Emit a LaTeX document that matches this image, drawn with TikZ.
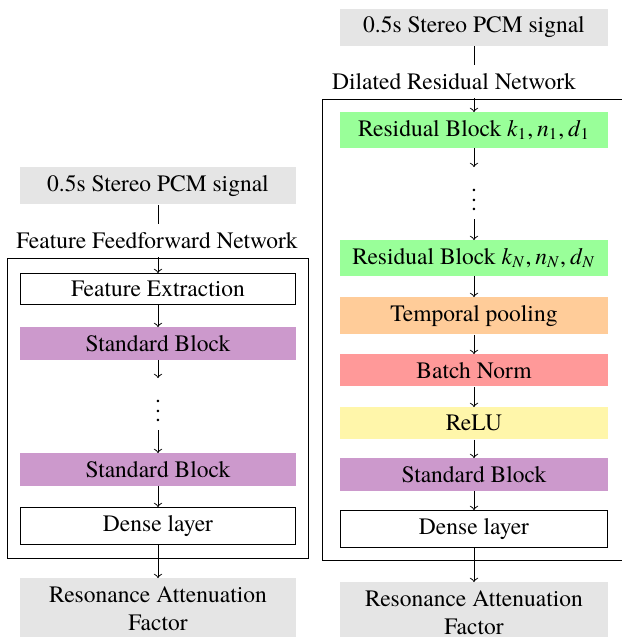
\documentclass[tikz,border=0pt]{standalone}
\usepackage{fontspec}
\setmainfont{TeX Gyre Termes}
\definecolor{inputgray}{RGB}{229,229,229}
\definecolor{stdpurple}{RGB}{204,153,204}
\definecolor{resgreen}{RGB}{153,255,153}
\definecolor{poolorange}{RGB}{255,204,153}
\definecolor{normred}{RGB}{255,153,153}
\definecolor{reluyellow}{RGB}{255,246,170}
\newcommand{\subvar}[2]{\textit{#1}\textsubscript{#2}}
\begin{document}
\begin{tikzpicture}[x=0.4255pt, y=-0.4255pt,
  font=\fontsize{10}{12}\selectfont,
  layerL/.style={anchor=north, minimum width=117.4pt, align=center},
  layerR/.style={anchor=north, minimum width=114pt, align=center},
  io/.style={fill=inputgray},
  plain/.style={draw, fill=white},
  stdblk/.style={fill=stdpurple},
  resblk/.style={fill=resgreen},
  poolblk/.style={fill=poolorange},
  normblk/.style={fill=normred},
  relublk/.style={fill=reluyellow},
  dotsnode/.style={anchor=north},
  netlabel/.style={anchor=south, fill=white},
  flow/.style={->}]
\useasboundingbox (0,0) rectangle (622,637);

% ---- Feature feedforward network ----
\draw (7,258) rectangle (308,558);
\node[layerL, io]     (inL)    at (158,167) {0.5s Stereo PCM signal};
\node[layerL, plain]  (feL)    at (158,273) {Feature Extraction};
\node[layerL, stdblk] (sb1L)   at (158,327) {Standard Block};
\node[dotsnode]       (dotsL)  at (158,378) {$\vdots$};
\node[layerL, stdblk] (sb2L)   at (158,453) {Standard Block};
\node[layerL, plain]  (denseL) at (158,507) {Dense layer};
\node[layerL, io]     (resL)   at (158,578) {Resonance Attenuation\\Factor};

\draw[flow] (inL) -- (feL);
\draw[flow] (feL) -- (sb1L);
\draw[flow] (sb1L) -- (dotsL);
\draw[flow] (dotsL) -- (sb2L);
\draw[flow] (sb2L) -- (denseL);
\draw[flow] (denseL) -- (resL);
\node[netlabel] (labL) at (157,257) {Feature Feedforward Network};

% ---- Dilated residual network ----
\draw (322,99) rectangle (630,560);
\node[layerR, io]      (inR)    at (474,8.5) {0.5s Stereo PCM signal};
\node[layerR, resblk]  (rb1)    at (474,112) {Residual Block \subvar{k}{1},\,\subvar{n}{1},\,\subvar{d}{1}};
\node[dotsnode]        (dotsR)  at (474,167) {$\vdots$};
\node[layerR, resblk]  (rbN)    at (474,240) {Residual Block \subvar{k}{\textit{N}},\,\subvar{n}{\textit{N}},\,\subvar{d}{\textit{N}}};
\node[layerR, poolblk] (pool)   at (474,297) {Temporal pooling};
\node[layerR, normblk] (bnorm)  at (474,354) {Batch Norm};
\node[layerR, relublk] (relu)   at (474,407) {ReLU};
\node[layerR, stdblk]  (sbR)    at (474,458) {Standard Block};
\node[layerR, plain]   (denseR) at (474,510) {Dense layer};
\node[layerR, io]      (resR)   at (474,582) {Resonance Attenuation\\Factor};

\draw[flow] (inR) -- (rb1);
\draw[flow] (rb1) -- (dotsR);
\draw[flow] (dotsR) -- (rbN);
\draw[flow] (rbN) -- (pool);
\draw[flow] (pool) -- (bnorm);
\draw[flow] (bnorm) -- (relu);
\draw[flow] (relu) -- (sbR);
\draw[flow] (sbR) -- (denseR);
\draw[flow] (denseR) -- (resR);
\node[netlabel] (labR) at (454,98) {Dilated Residual Network};
\end{tikzpicture}
\end{document}
